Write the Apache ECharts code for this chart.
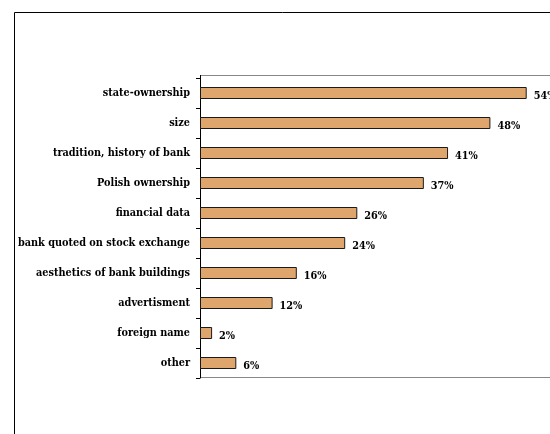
<!DOCTYPE html>
<html>
<head>
<meta charset="utf-8">
<script src="https://cdn.jsdelivr.net/npm/echarts@6/dist/echarts.min.js"></script>
<style>
  html, body { margin: 0; padding: 0; background: #fff; }
  #chart { width: 550px; height: 434px; }
</style>
</head>
<body>
<div id="chart"></div>
<script>
// Factors named as reasons for choosing a bank (share of answers, %)
const categories = [
  'state-ownership',
  'size',
  'tradition, history of bank',
  'Polish ownership',
  'financial data',
  'bank quoted on stock exchange',
  'aesthetics of bank buildings',
  'advertisment',
  'foreign name',
  'other'
];
const shares = [54, 48, 41, 37, 26, 24, 16, 12, 2, 6];

const FONT = '"DejaVu Serif Condensed", "DejaVu Serif", serif';

const chart = echarts.init(document.getElementById('chart'), null, { renderer: 'canvas' });

chart.setOption({
  animation: false,
  backgroundColor: '#ffffff',
  graphic: [
    {
      // outer chart frame
      type: 'rect',
      shape: { x: 14.5, y: 12.5, width: 600, height: 500 },
      style: { fill: 'none', stroke: '#000000', lineWidth: 1 },
      silent: true
    },
    {
      // plot-area frame (top and bottom edges)
      type: 'polyline',
      shape: { points: [[560, 75.5], [200.5, 75.5], [200.5, 377.5], [560, 377.5]] },
      style: { fill: 'none', stroke: '#888888', lineWidth: 1 },
      silent: true,
      z: 0
    },
    {
      type: 'line',
      shape: { x1: 200.5, y1: 75, x2: 200.5, y2: 378 },
      style: { stroke: '#000000', lineWidth: 1 },
      silent: true,
      z: 0
    }
  ],
  grid: {
    left: 200,
    top: 78,
    width: 363,
    height: 300,
    outerBoundsMode: 'none',
    containLabel: false,
    show: false
  },
  xAxis: {
    type: 'value',
    min: 0,
    max: 60,
    show: false
  },
  yAxis: {
    type: 'category',
    inverse: true,
    data: categories,
    axisLine: { show: true, lineStyle: { color: '#000000', width: 1 } },
    axisTick: { show: true, length: 4, lineStyle: { color: '#000000' } },
    axisLabel: {
      margin: 10,
      color: '#000000',
      fontFamily: FONT,
      fontWeight: 'bold',
      fontSize: 10.8,
      padding: [3, 0, 0, 0]
    },
    splitLine: { show: false }
  },
  series: [{
    type: 'bar',
    data: shares,
    barWidth: 12,
    itemStyle: {
      color: '#DEA66C',
      borderColor: '#1a1a1a',
      borderWidth: 1
    },
    label: {
      show: true,
      position: 'right',
      distance: 7,
      offset: [0, 3],
      formatter: '{c}%',
      color: '#000000',
      fontFamily: FONT,
      fontWeight: 'bold',
      fontSize: 10.8
    }
  }]
});
</script>
</body>
</html>
